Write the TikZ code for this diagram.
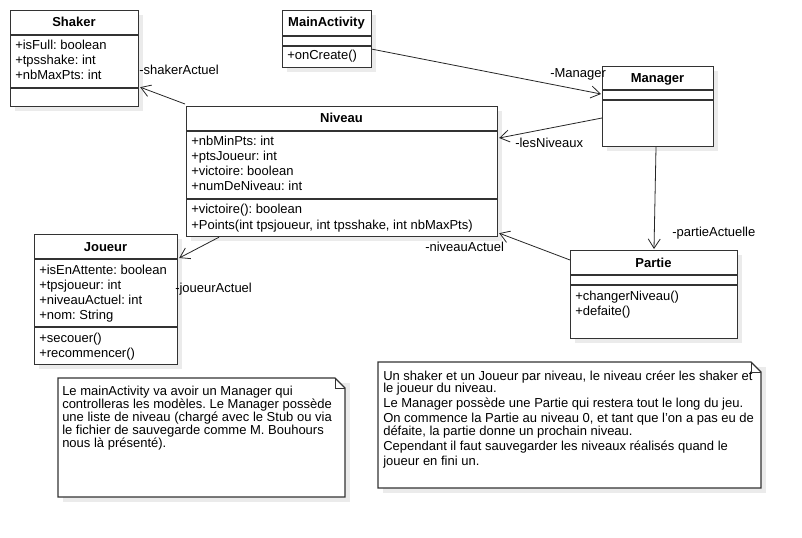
\documentclass[tikz,border=0pt]{standalone}
\usepackage{fontspec}
\setmainfont{Liberation Sans}
\usetikzlibrary{arrows.meta,calc}
\frenchspacing
\def\px{0.75pt}
\tikzset{
  cls/.style={draw=black!80, line width=0.9pt, fill=white, anchor=north west, inner sep=0pt},
  shadowbox/.style={fill=black!8, draw=none},
  sep/.style={draw=black!80, line width=0.9pt},
  ttl/.style={font=\fontsize{9.75}{11}\selectfont\bfseries, anchor=base, inner sep=0pt},
  attr/.style={font=\fontsize{9.75}{11}\selectfont, anchor=base west, inner sep=0pt},
  lbl/.style={font=\fontsize{9.75}{11}\selectfont, anchor=base west, inner sep=0pt},
  notetxt/.style={font=\fontsize{9.75}{11}\selectfont, anchor=base west, inner sep=0pt},
  assoc/.style={draw=black!85, line width=0.6pt, -{Straight Barb[length=7pt,width=9pt]}},
  notebox/.style={draw=black!80, line width=0.9pt, fill=white},
}
\begin{document}
\begin{tikzpicture}[x=0.75pt,y=-0.75pt]
\useasboundingbox (0,0) rectangle (802,538);
\fill[white] (0,0) rectangle (802,538);

% shadows
\fill[shadowbox] (15,15) rectangle (143,111);
\fill[shadowbox] (287,15) rectangle (376,72);
\fill[shadowbox] (607,71) rectangle (718,151);
\fill[shadowbox] (191,111) rectangle (502,241);
\fill[shadowbox] (39,239) rectangle (182,369);
\fill[shadowbox] (575,255) rectangle (742,343);

% Shaker
\node[cls, minimum width=128*\px, minimum height=96*\px] (shaker) at (10,10) {};
\draw[sep] ($(shaker.north west)+(0,25)$) -- ($(shaker.north east)+(0,25)$);
\draw[sep] ($(shaker.north west)+(0,78)$) -- ($(shaker.north east)+(0,78)$);
\node[ttl] (shakerT) at (74,27) {Shaker};
\node[attr] (shakerA1) at (15,50) {+isFull: boolean};
\node[attr] (shakerA2) at (15,65) {+tpsshake: int};
\node[attr] (shakerA3) at (15,80) {+nbMaxPts: int};

% MainActivity
\node[cls, minimum width=89*\px, minimum height=57*\px] (main) at (282,10) {};
\draw[sep] ($(main.north west)+(0,26)$) -- ($(main.north east)+(0,26)$);
\draw[sep] ($(main.north west)+(0,36)$) -- ($(main.north east)+(0,36)$);
\node[ttl] (mainT) at (326.5,27) {MainActivity};
\node[attr] (mainO1) at (287,60) {+onCreate()};

% Manager
\node[cls, minimum width=111*\px, minimum height=80*\px] (manager) at (602,66) {};
\draw[sep] ($(manager.north west)+(0,24)$) -- ($(manager.north east)+(0,24)$);
\draw[sep] ($(manager.north west)+(0,34)$) -- ($(manager.north east)+(0,34)$);
\node[ttl] (managerT) at (657.5,83) {Manager};

% Niveau
\node[cls, minimum width=311*\px, minimum height=130*\px] (niveau) at (186,106) {};
\draw[sep] ($(niveau.north west)+(0,25)$) -- ($(niveau.north east)+(0,25)$);
\draw[sep] ($(niveau.north west)+(0,93)$) -- ($(niveau.north east)+(0,93)$);
\node[ttl] (niveauT) at (341.5,123) {Niveau};
\node[attr] (niveauA1) at (191,146) {+nbMinPts: int};
\node[attr] (niveauA2) at (191,161) {+ptsJoueur: int};
\node[attr] (niveauA3) at (191,176) {+victoire: boolean};
\node[attr] (niveauA4) at (191,191) {+numDeNiveau: int};
\node[attr] (niveauO1) at (191,214) {+victoire(): boolean};
\node[attr] (niveauO2) at (191,229) {+Points(int tpsjoueur, int tpsshake, int nbMaxPts)};

% Joueur
\node[cls, minimum width=143*\px, minimum height=130*\px] (joueur) at (34,234) {};
\draw[sep] ($(joueur.north west)+(0,25)$) -- ($(joueur.north east)+(0,25)$);
\draw[sep] ($(joueur.north west)+(0,93)$) -- ($(joueur.north east)+(0,93)$);
\node[ttl] (joueurT) at (105.5,251) {Joueur};
\node[attr] (joueurA1) at (39,274) {+isEnAttente: boolean};
\node[attr] (joueurA2) at (39,289) {+tpsjoueur: int};
\node[attr] (joueurA3) at (39,304) {+niveauActuel: int};
\node[attr] (joueurA4) at (39,319) {+nom: String};
\node[attr] (joueurO1) at (39,342) {+secouer()};
\node[attr] (joueurO2) at (39,357) {+recommencer()};

% Partie
\node[cls, minimum width=167*\px, minimum height=88*\px] (partie) at (570,250) {};
\draw[sep] ($(partie.north west)+(0,25)$) -- ($(partie.north east)+(0,25)$);
\draw[sep] ($(partie.north west)+(0,35)$) -- ($(partie.north east)+(0,35)$);
\node[ttl] (partieT) at (653.5,267) {Partie};
\node[attr] (partieO1) at (575,300) {+changerNiveau()};
\node[attr] (partieO2) at (575,315) {+defaite()};

% Associations
\draw[assoc] ($(niveau.north west)+(-1,-2)$) -- ($(shaker.south east)+(1,-20)$);
\node[lbl] (lShaker) at (139,75) {-shakerActuel};
\draw[assoc] ($(main.south east)+(0,-19)$) -- ($(manager.north west)+(-1,28)$);
\node[lbl] (lManager) at (550,78) {-Manager};
\draw[assoc] ($(manager.north west)+(0,52)$) -- ($(niveau.north east)+(1,32)$);
\node[lbl] (lNiveaux) at (515,148) {-lesNiveaux};
\draw[assoc] ($(manager.south west)+(54,0)$) -- ($(partie.north west)+(84,-1)$);
\node[lbl] (lPartie) at (672,236) {-partieActuelle};
\draw[assoc] ($(partie.north west)+(0,10)$) -- ($(niveau.south east)+(1,-4)$);
\node[lbl] (lNivAct) at (425,251) {-niveauActuel};
\draw[assoc] ($(niveau.south west)+(33,0)$) -- ($(joueur.north east)+(1,24)$);
\node[lbl] (lJoueur) at (175,292) {-joueurActuel};

% Note 1
\fill[shadowbox] (63,383) rectangle (350,502);
\draw[notebox] (58,378) -- (335,378) -- (345,388) -- (345,497) -- (58,497) -- cycle;
\draw[sep, line width=0.6pt] (335,378) -- (335,388) -- (345,388);
\node[notetxt] (n1a) at (62,395) {Le mainActivity va avoir un Manager qui};
\node[notetxt] (n1b) at (62,408) {controlleras les modèles. Le Manager possède};
\node[notetxt] (n1c) at (62,421) {une liste de niveau (chargé avec le Stub ou via};
\node[notetxt] (n1d) at (62,434.5) {le fichier de sauvegarde comme M. Bouhours};
\node[notetxt] (n1e) at (62,447.5) {nous là présenté).};

% Note 2
\fill[shadowbox] (383,367) rectangle (766,493);
\draw[notebox] (378,362) -- (751,362) -- (761,372) -- (761,488) -- (378,488) -- cycle;
\draw[sep, line width=0.6pt] (751,362) -- (751,372) -- (761,372);
\node[notetxt] (n2a) at (383,380) {Un shaker et un Joueur par niveau, le niveau créer les shaker et};
\node[notetxt] (n2b) at (383,392.5) {le joueur du niveau.};
\node[notetxt] (n2c) at (383,407.5) {Le Manager possède une Partie qui restera tout le long du jeu.};
\node[notetxt] (n2d) at (383,422.5) {On commence la Partie au niveau 0, et tant que l'on a pas eu de};
\node[notetxt] (n2e) at (383,435.5) {défaite, la partie donne un prochain niveau.};
\node[notetxt] (n2f) at (383,450.5) {Cependant il faut sauvegarder les niveaux réalisés quand le};
\node[notetxt] (n2g) at (383,465) {joueur en fini un.};
\end{tikzpicture}
\end{document}
